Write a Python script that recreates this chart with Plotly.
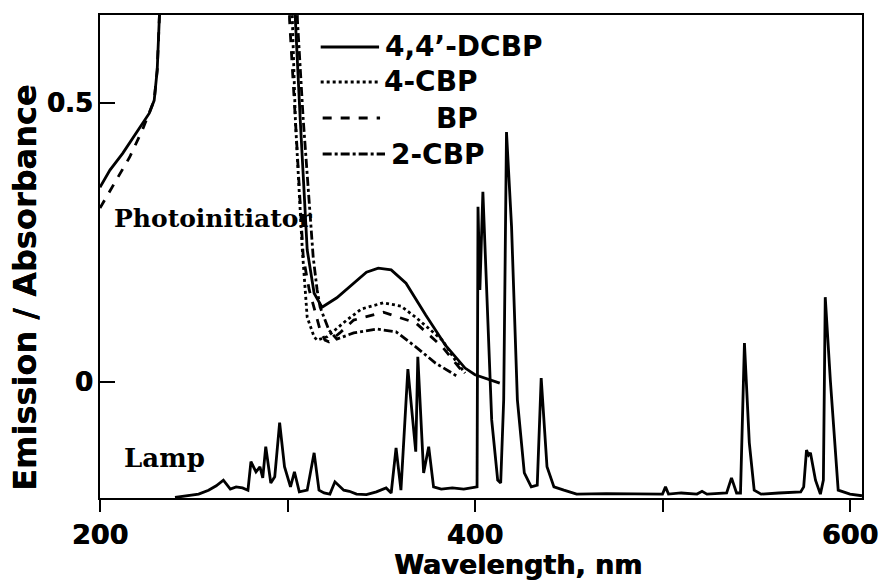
import plotly.graph_objects as go

# ---------------- data ----------------
# Absorbance: 4,4'-DCBP (solid) - short-wavelength branch
dcbp_left_x = [200.0, 205.3, 212.1, 221.1, 226.3, 228.9, 230.5, 231.6, 232.1]
dcbp_left_y = [0.349, 0.380, 0.410, 0.455, 0.482, 0.505, 0.559, 0.649, 0.690]
# BP (dashed) - short-wavelength branch
bp_left_x = [200.0, 208.9, 215.8, 222.6, 226.3, 228.9, 230.5, 231.6, 232.1]
bp_left_y = [0.312, 0.362, 0.403, 0.452, 0.482, 0.505, 0.559, 0.649, 0.690]

# n-pi* band branch
dcbp_x = [304.0, 304.2, 306.8, 309.5, 310.5, 314.2, 318.4, 326.3, 335.3, 342.1, 348.4,
          355.3, 363.2, 373.7, 384.2, 394.7, 400.0, 413.2]
dcbp_y = [0.690, 0.649, 0.470, 0.308, 0.237, 0.159, 0.134, 0.151, 0.177, 0.197, 0.204,
          0.201, 0.177, 0.120, 0.066, 0.025, 0.013, -0.002]

cbp4_x = [302.4, 302.6, 304.2, 306.8, 307.9, 310.5, 314.2, 315.8, 321.1, 331.6, 339.5,
          351.1, 360.5, 368.4, 382.6, 389.5, 394.7]
cbp4_y = [0.690, 0.649, 0.470, 0.308, 0.237, 0.116, 0.081, 0.075, 0.081, 0.111, 0.131,
          0.142, 0.136, 0.116, 0.075, 0.039, 0.016]

bp_x = [300.9, 301.1, 304.2, 306.8, 308.4, 311.6, 314.7, 317.4, 320.0, 322.1, 327.9,
        335.3, 351.1, 368.4, 382.6, 389.5, 394.7]
bp_y = [0.690, 0.649, 0.470, 0.308, 0.224, 0.165, 0.124, 0.093, 0.075, 0.072, 0.088,
        0.111, 0.125, 0.106, 0.063, 0.034, 0.013]

cbp2_x = [305.0, 305.3, 308.4, 312.1, 313.7, 315.8, 317.4, 322.1, 326.3, 335.3, 347.4,
          357.9, 368.4, 378.9, 386.8, 391.1]
cbp2_y = [0.690, 0.649, 0.470, 0.308, 0.224, 0.165, 0.134, 0.093, 0.077, 0.088, 0.095,
          0.090, 0.063, 0.034, 0.018, 0.009]

# Lamp emission (plotted on the same axis, offset below 0)
lamp_x = [240.0, 252.6, 257.9, 262.0, 265.8, 269.5, 272.6, 276.0, 278.9, 280.5, 283.2, 285.3, 286.8,
          288.4, 291.1, 293.2, 295.8, 298.4, 301.6, 303.7, 306.3, 310.5, 314.2, 316.8,
          319.5, 322.6, 325.3, 330.0, 333.0, 336.8, 342.1, 345.0, 347.4, 352.6, 355.3, 357.9, 360.5, 364.2,
          368.4, 369.5, 372.6, 375.3, 377.9, 382.0, 387.9, 394.0, 400.0, 401.1, 401.6, 402.6, 404.2,
          406.3, 408.9, 412.1, 413.7, 415.3, 416.8, 419.5, 422.6, 426.3, 430.0, 433.2,
          435.3, 438.4, 442.1, 447.4, 454.2, 470.0, 485.0, 500.0, 501.6, 503.2, 510.0, 518.4, 521.1, 523.7,
          534.2, 536.8, 539.5, 541.6, 543.7, 546.3, 548.9, 552.6, 562.0, 573.7, 575.3, 576.8,
          577.9, 578.9, 581.6, 584.2, 585.8, 586.8, 589.5, 593.7, 600.0, 606.4]
lamp_y = [-0.207, -0.201, -0.194, -0.186, -0.176, -0.192, -0.188, -0.190, -0.194, -0.143, -0.161, -0.152, -0.172,
          -0.116, -0.181, -0.170, -0.073, -0.152, -0.188, -0.161, -0.197, -0.194, -0.127, -0.194,
          -0.199, -0.201, -0.179, -0.194, -0.196, -0.201, -0.202, -0.199, -0.197, -0.190, -0.199, -0.118, -0.194, 0.023,
          -0.125, 0.045, -0.163, -0.116, -0.188, -0.192, -0.190, -0.192, -0.188, -0.188, 0.314, 0.165, 0.341,
          0.165, -0.068, -0.176, -0.181, -0.032, 0.448, 0.278, -0.032, -0.163, -0.188, -0.185,
          0.007, -0.152, -0.188, -0.194, -0.201, -0.200, -0.201, -0.201, -0.188, -0.201, -0.199, -0.201, -0.196, -0.201,
          -0.199, -0.172, -0.199, -0.199, 0.070, -0.109, -0.194, -0.201, -0.199, -0.197, -0.188, -0.122,
          -0.131, -0.127, -0.176, -0.201, -0.176, 0.152, 0.004, -0.194, -0.201, -0.204]

x_tickvals = [200, 300, 400, 500, 600]
x_ticktext = ["200", "", "400", "", "600"]
y_tickvals = [0, 0.5]
y_ticktext = ["0", "0.5"]

legend_names = ["4,4\u2019-DCBP", "4-CBP", "BP", "2-CBP"]
legend_dashes = ["solid", "dot", "dash", "dashdot"]

# ---------------- figure ----------------
LW = 2.8
fig = go.Figure()
def add(x, y, dash):
    fig.add_trace(go.Scatter(x=x, y=y, mode="lines", showlegend=False,
                             line=dict(color="black", width=LW, dash=dash),
                             hoverinfo="skip"))

add(dcbp_left_x, dcbp_left_y, "solid")
add(bp_left_x, bp_left_y, "dash")
add(cbp4_x, cbp4_y, "dot")
add(bp_x, bp_y, "dash")
add(cbp2_x, cbp2_y, "dashdot")
add(dcbp_x, dcbp_y, "solid")
add(lamp_x, lamp_y, "solid")

W, H = 890, 580
L, R, T, B = 100, 870, 15, 498
def px(xp):
    return (xp - L) / (R - L)
def py(yp):
    return (B - yp) / (B - T)

HEAVY = "0.7px 0px 0px black"
shapes = []
annotations = []
leg_rows = [47, 82, 118, 154]
leg_line = [(323, 382), (323, 383), (325, 383), (325, 388)]
leg_text_x = [386, 385, 438, 392]
for name, dash, yr, (x0, x1), tx in zip(legend_names, legend_dashes, leg_rows, leg_line, leg_text_x):
    shapes.append(dict(type="line", xref="paper", yref="paper",
                       x0=px(x0), x1=px(x1), y0=py(yr), y1=py(yr),
                       line=dict(color="black", width=LW, dash=dash)))
    annotations.append(dict(text=name, xref="paper", yref="paper", x=px(tx), y=py(yr),
                            xanchor="left", yanchor="middle", showarrow=False,
                            font=dict(family="DejaVu Sans", size=28, color="black", weight="bold")))

annotations.append(dict(text="Photoinitiator", xref="paper", yref="paper", x=px(112), y=py(218),
                        xanchor="left", yanchor="middle", showarrow=False,
                        font=dict(family="DejaVu Serif", size=25, color="black", weight="bold")))
annotations.append(dict(text="Lamp", xref="paper", yref="paper", x=px(122), y=py(458),
                        xanchor="left", yanchor="middle", showarrow=False,
                        font=dict(family="DejaVu Serif", size=26, color="black", weight="bold")))
annotations.append(dict(text="Wavelength, nm", xref="paper", yref="paper", x=px(522), y=py(564),
                        xanchor="center", yanchor="middle", showarrow=False,
                        font=dict(family="DejaVu Sans", size=27, color="black", weight="bold",
                                  shadow=HEAVY)))
annotations.append(dict(text="Emission / Absorbance", xref="paper", yref="paper", x=px(24), y=py(288),
                        xanchor="center", yanchor="middle", showarrow=False, textangle=-90,
                        font=dict(family="DejaVu Sans", size=32, color="black", weight="bold",
                                  shadow="0px 0.7px 0px black")))

fig.update_layout(
    width=W, height=H,
    margin=dict(l=L, r=W - R, t=T, b=H - B),
    paper_bgcolor="white", plot_bgcolor="white",
    shapes=shapes, annotations=annotations,
    xaxis=dict(range=[200, 606.4], tickvals=x_tickvals, ticktext=x_ticktext,
               ticks="outside", ticklen=12, tickwidth=2, tickcolor="black",
               showline=True, linecolor="black", linewidth=2, mirror=True,
               showgrid=False, zeroline=False,
               tickfont=dict(family="DejaVu Sans", size=27, color="black", weight="bold",
                             shadow=HEAVY)),
    yaxis=dict(range=[-0.208, 0.658], tickvals=y_tickvals, ticktext=y_ticktext,
               ticks="inside", ticklen=15, tickwidth=2, tickcolor="black",
               showline=True, linecolor="black", linewidth=2, mirror=True,
               showgrid=False, zeroline=False,
               tickfont=dict(family="DejaVu Sans", size=26, color="black", weight="bold",
                             shadow=HEAVY)),
)

fig.write_html("out.html")
